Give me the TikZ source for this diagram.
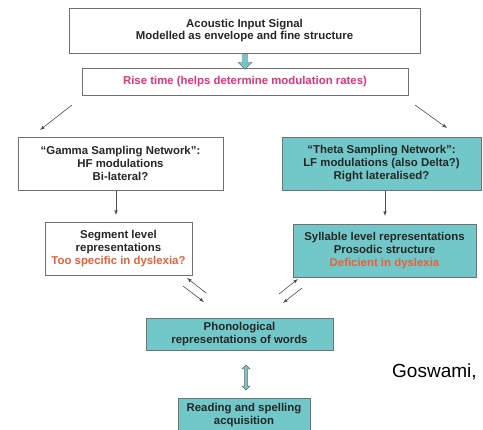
\documentclass[tikz,border=0pt]{standalone}
\usepackage{fontspec}
\setmainfont{Liberation Sans}
\usepackage{xcolor}
\usetikzlibrary{shapes.arrows}
\definecolor{tealfill}{HTML}{72C8C8}
\definecolor{rosetext}{HTML}{E2337C}
\definecolor{redtext}{HTML}{E8603A}
\definecolor{boxline}{HTML}{707070}

\begin{document}
\begin{tikzpicture}[x=1pt,y=-1pt,>=latex,
  box/.style={draw=boxline,fill=white,align=center,inner sep=0pt,
    text=black!85,font=\bfseries\fontsize{11.4}{12.6}\selectfont},
  tbox/.style={box,fill=tealfill},
  link/.style={->,draw=black!70,line width=0.6pt}]
  \useasboundingbox (0,0) rectangle (483,430);
  % boxes
  \node[box,minimum width=351,minimum height=45] (signal) at (244.5,30.5)
    {Acoustic Input Signal\\Modelled as envelope and fine structure};
  \node[box,minimum width=326,minimum height=27] (rise) at (245,81.5)
    {\textcolor{rosetext}{Rise time (helps determine modulation rates)}};
  \node[box,minimum width=205,minimum height=53] (gamma) at (120.5,163.5)
    {``Gamma Sampling Network'':\\HF modulations\\Bi-lateral?};
  \node[tbox,minimum width=199,minimum height=53] (theta) at (381.5,163.5)
    {``Theta Sampling Network'':\\LF modulations (also Delta?)\\Right lateralised?};
  \node[box,minimum width=147,minimum height=53] (segment) at (118.5,248.5)
    {Segment level\\representations\\\textcolor{redtext}{Too specific in dyslexia?}};
  \node[tbox,minimum width=183,minimum height=53] (syllable) at (384.5,250.5)
    {Syllable level representations\\Prosodic structure\\\textcolor{redtext}{Deficient in dyslexia}};
  \node[tbox,minimum width=187,minimum height=32] (phon) at (239.5,334)
    {Phonological\\representations of words};
  \node[tbox,minimum width=132,minimum height=34] (reading) at (244,415)
    {Reading and spelling\\acquisition};
  \node[anchor=west,inner sep=0pt,font=\fontsize{19}{21}\selectfont] (cite) at (392,372) {Goswami,};
  % block arrows
  \node[single arrow,draw=boxline,fill=tealfill,line width=0.4pt,shape border rotate=270,
    minimum width=14,minimum height=15,single arrow head extend=3,inner sep=1.5pt]
    (down) at (245,60.5) {};
  \node[double arrow,draw=black!60,fill=tealfill,line width=0.4pt,shape border rotate=90,
    minimum width=8,minimum height=25,double arrow head extend=2,inner sep=0.8pt]
    (both) at (246,377.5) {};
  % free arrow ends
  \coordinate (gl1) at (72,105);  \coordinate (gl2) at (40,130);
  \coordinate (tr1) at (415,105); \coordinate (tr2) at (447,128);
  \coordinate (sg1) at (116,191); \coordinate (sg2) at (116,215);
  \coordinate (sy1) at (385,191); \coordinate (sy2) at (385,216);
  \coordinate (a1) at (206,293);  \coordinate (a2) at (187,278);
  \coordinate (b1) at (183,286);  \coordinate (b2) at (204,302);
  \coordinate (c1) at (279,294);  \coordinate (c2) at (298,279);
  \coordinate (d1) at (302,288);  \coordinate (d2) at (283,303);
  \draw[link] (gl1) -- (gl2);
  \draw[link] (tr1) -- (tr2);
  \draw[link] (sg1) -- (sg2);
  \draw[link] (sy1) -- (sy2);
  \draw[link] (a1) -- (a2);
  \draw[link] (b1) -- (b2);
  \draw[link] (c1) -- (c2);
  \draw[link] (d1) -- (d2);
\end{tikzpicture}
\end{document}
